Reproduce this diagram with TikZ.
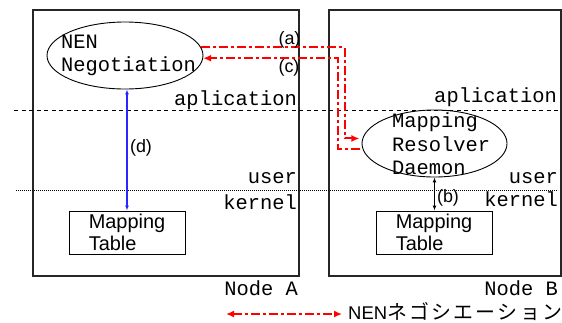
\documentclass[tikz,border=0pt]{standalone}
\usepackage{fontspec}
\setmainfont{Liberation Sans}
\setmonofont{Liberation Mono}
\newfontfamily\jpfont{Noto Sans CJK JP}[LetterSpace=12]
\usetikzlibrary{arrows.meta,shapes.geometric}

\definecolor{negred}{RGB}{255,0,0}
\definecolor{ctlblue}{RGB}{40,40,255}

\begin{document}
\begin{tikzpicture}[x=1bp,y=-1bp,
  hostbox/.style={draw=black!85, line width=1.2bp, inner sep=0},
  proc/.style={draw, ellipse, line width=0.9bp, inner sep=0},
  proctext/.style={font=\fontsize{20.5}{#1}\selectfont\ttfamily, align=left, inner sep=0, anchor=west},
  tablebox/.style={draw, line width=1bp, minimum width=116bp, minimum height=43bp,
    inner sep=0, align=left, font=\fontsize{20}{22}\selectfont},
  layerlabel/.style={font=\fontsize{20.5}{24}\selectfont\ttfamily, inner sep=0, anchor=base east},
  steplabel/.style={font=\fontsize{18}{20}\selectfont, inner sep=0},
  layerdash/.style={line width=0.8bp, dash pattern=on 4bp off 3.5bp},
  layerdot/.style={line width=0.8bp, dash pattern=on 1bp off 1bp},
  negline/.style={draw=negred, line width=2bp,
    dash pattern=on 9bp off 3bp on 3bp off 3bp},
  negtip/.style={-{Latex[length=8bp,width=7bp]}},
  ctlarrow/.style={line width=1.1bp, {Latex[length=5bp,width=4bp]}-{Latex[length=5bp,width=4bp]}}
]
\useasboundingbox (0,0) rectangle (562,322);

% hosts
\node[hostbox, minimum width=266bp, minimum height=266bp] (hostA) at (166,143) {};
\node[hostbox, minimum width=232bp, minimum height=266bp] (hostB) at (445,143) {};

% layer boundaries
\draw[layerdash] (14,110) -- (558,110);
\draw[layerdot] (16,190) -- (558,190);

% layer names
\node[layerlabel] (appA) at (297,105.5) {aplication};
\node[layerlabel] (appB) at (557,102) {aplication};
\node[layerlabel] (userA) at (297,183.3) {user};
\node[layerlabel] (kernA) at (297,209.3) {kernel};
\node[layerlabel] (userB) at (558,183.3) {user};
\node[layerlabel] (kernB) at (558,206.5) {kernel};
\node[layerlabel] (nameA) at (298,295) {Node A};
\node[layerlabel] (nameB) at (558,295) {Node B};

% processes
\node[proc, minimum width=156bp, minimum height=67bp] (nen) at (125,55.5) {};
\node[proctext=23bp] (nentext) at (61,55.2) {NEN\\Negotiation};
\node[proc, minimum width=145bp, minimum height=67bp] (res) at (434.5,143.5) {};
\node[proctext=23.5bp] (restext) at (392,143.8) {Mapping\\Resolver\\Daemon};

% kernel tables
\node[tablebox] (tabA) at (127,232.5) {Mapping\\Table};
\node[tablebox] (tabB) at (434,232.5) {Mapping\\Table};

% negotiation messages
\coordinate (aBend) at (345,0);
\coordinate (cBend) at (338,0);
\draw[negline, negtip, shorten >=3bp] (nen.6) -| (aBend |- res.176) -- (res.176);
\draw[negline, negtip, shorten <=2bp] (res.184) -| (cBend |- nen.-2) -- (nen.-2);
\node[steplabel] (lblA) at (289.5,39.5) {(a)};
\node[steplabel] (lblC) at (289,67.5) {(c)};

% local control paths
\draw[ctlarrow, ctlblue] (tabA.north |- nen.south) -- (tabA.north);
\node[steplabel] (lblD) at (141,147.7) {(d)};
\draw[ctlarrow] (res.south) -- (res.south |- tabB.north);
\node[steplabel] (lblB) at (448,197.5) {(b)};

% legend
\coordinate (legL) at (226,314);
\coordinate (legR) at (342,314);
\draw[negline, {Latex[length=8bp,width=7bp]}-{Latex[length=8bp,width=7bp]}] (legL) -- (legR);
\node[inner sep=0, anchor=base west, font=\fontsize{18.5}{20}\selectfont] (legend) at (348,319.5)
  {NEN{\fontsize{20}{22}\jpfont ネゴシエーション}};
\end{tikzpicture}
\end{document}
